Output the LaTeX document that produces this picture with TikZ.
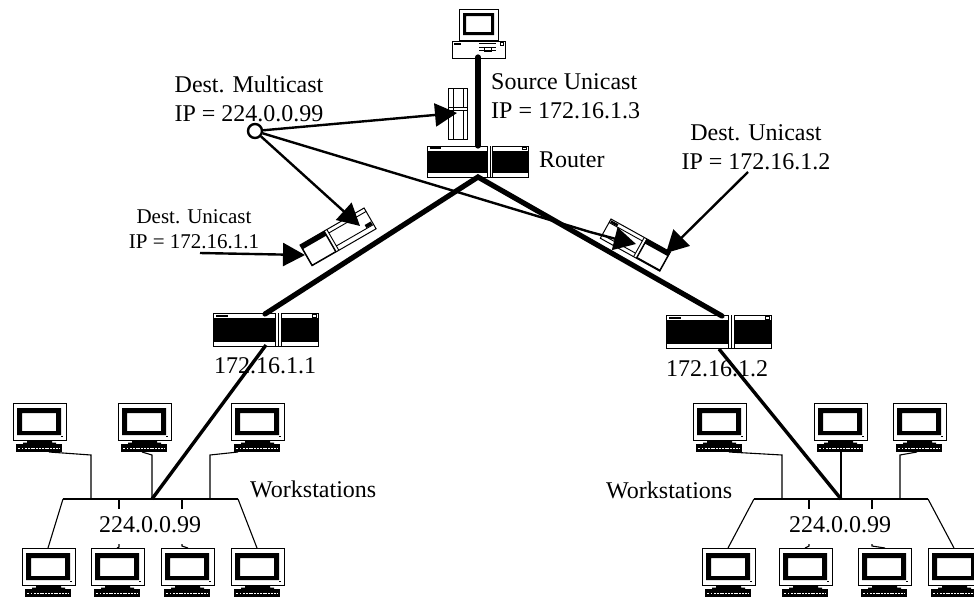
\documentclass[tikz,border=0pt]{standalone}
\usepackage{fontspec}
\setmainfont{Liberation Serif}
\usetikzlibrary{arrows.meta}
\tikzset{
  lbl/.style={inner sep=0pt,font=\fontsize{24}{29}\selectfont,align=center},
  lblsm/.style={inner sep=0pt,font=\fontsize{21}{25}\selectfont,align=center},
  wire/.style={line width=1.1pt},
  link/.style={line width=3.4pt},
  trunk/.style={line width=5.2pt,line cap=round,line join=miter},
  big/.style={line width=2.4pt,-{Triangle[length=22pt,width=23pt]}},
  bus/.style={line width=2pt},
  monitor/.pic={
    \draw[fill=white,line width=1pt] (0,0) rectangle (53,37);
    \fill[black,even odd rule] (4,5) rectangle (48,32) (9,10) rectangle (43,28);
    \draw[line width=0.8pt] (48,33.5)--(50,33.5);
    \fill[black] (14,37.5) rectangle (39,39.5) (10,39.5) rectangle (43,41);
    \fill[black] (3,41) rectangle (49,49);
    \draw[white,line width=1.6pt,dash pattern=on 2pt off 0.8pt] (12,45.5)--(46,45.5);
    \draw[white,line width=1.6pt] (5,45.5)--(7,45.5) (9,45.5)--(10,45.5);
    \coordinate (-a) at (7,49);
    \coordinate (-b) at (24,49);
    \coordinate (-c) at (27,49);
    \coordinate (-d) at (36,49);
  },
  routerbox/.pic={
    \draw[fill=white,line width=1pt] (0,0) rectangle (105,33);
    \fill[black] (0,5) rectangle (105,28.5);
    \fill[white] (62.5,0) rectangle (68.5,33);
    \draw[line width=1pt] (62.5,0)--(62.5,33) (65.5,0)--(65.5,33) (68.5,0)--(68.5,33);
    \fill[black] (3,1.5) rectangle (15,3.5);
    \draw[line width=0.7pt] (99,1.2) rectangle (103,4);
  },
  packetbox/.pic={
    \draw[fill=white,line width=1pt] (0,0) rectangle (74,24);
    \fill[black,even odd rule] (0,0) rectangle (28,24) (1,5) rectangle (27,23);
    \draw[line width=0.9pt] (28,0)--(28,24) (31,0)--(31,24) (31,4)--(74,4) (31,19)--(74,19);
    \fill[black] (66,15) rectangle (73,18.5);
  },
  packetboxr/.pic={
    \draw[fill=white,line width=1pt] (0,0) rectangle (68,22);
    \fill[black,even odd rule] (41,0) rectangle (68,22) (42,5) rectangle (67,20.5);
    \draw[line width=0.9pt] (41,0)--(41,22) (38,0)--(38,22) (0,4)--(38,4) (0,18)--(38,18);
    \fill[black] (1,1) rectangle (9,3.5);
  },
}
\begin{document}
\begin{tikzpicture}[x=1pt,y=-1pt]
\useasboundingbox (0,0) rectangle (974,598);

% routers
\pic (rt) at (427,146) [xscale=0.962,yscale=0.94] {routerbox};
\pic (rl) at (213,313) {routerbox};
\pic (rr) at (666,315) {routerbox};
\coordinate (rtA) at (478,146);
\coordinate (rtB) at (478,177);
\coordinate (rlT) at (265,314);
\coordinate (rlB) at (266,345);
\coordinate (rrT) at (722,316);
\coordinate (rrB) at (719,349);

% source pc
\draw[fill=white,line width=1pt] (459,9) rectangle (498,40);
\fill[black,even odd rule] (463,13) rectangle (494,35) (466,16) rectangle (491,32);
\draw[fill=white,line width=1pt] (452,41) rectangle (505,58);
\fill[black] (454,43) rectangle (461,45);
\draw[line width=0.8pt] (479,43)--(496,43) (479,47)--(496,47) (479,50)--(496,50) (484,47) rectangle (491,51);
\draw[line width=0.7pt] (500,42.5) rectangle (503,45);
\coordinate (src) at (478,57);

% packets
\draw[fill=white,line width=1pt] (448,88) rectangle (467,139);
\draw[line width=0.9pt] (453,88)--(453,139) (463,88)--(463,107) (463,110)--(463,139) (448,107)--(467,107) (448,110)--(467,110);
\pic[rotate=30] (pl) at (300,245) {packetbox};
\pic[rotate=-29] (pr) at (611,219) {packetboxr};

% trunks
\draw[trunk] (src) -- (rtA);
\draw[trunk] (rlT) -- (rtB) -- (rrT);
\draw[link] (rlB) -- (152,499);
\draw[link] (rrB) -- (841,499);

% left workstations
\pic (a1) at (13,403) {monitor};
\pic (a2) at (118,403) {monitor};
\pic (a3) at (231,403) {monitor};
\pic (a4) at (22,548) {monitor};
\pic (a5) at (91,548) {monitor};
\pic (a6) at (161,548) {monitor};
\pic (a7) at (231,548) {monitor};
\coordinate (lb0) at (63,499);
\coordinate (lb1) at (91,499);
\coordinate (lb2) at (152,499);
\coordinate (lb3) at (210,499);
\coordinate (lb4) at (238,499);
\draw[wire] (lb0) -- (lb4);
\draw[bus] (lb1) -- (lb3);
\draw[wire] (a1-d) -- (91,455) -- (lb1);
\draw[wire] (a2-b) -- (152,455) -- (lb2);
\draw[wire] (a3-a) -- (210,455) -- (lb3);
\draw[wire] (lb0) -- (48,548);
\draw[wire] (119,499) -- (119,509);
\draw[wire] (119,544) -- (119,547) -- (117,548);
\draw[wire] (182,499) -- (182,509);
\draw[wire] (182,544) -- (182,546) -- (188,548);
\draw[wire] (lb4) -- (257,548);

% right workstations
\pic (b1) at (693,403) {monitor};
\pic (b2) at (814,403) {monitor};
\pic (b3) at (893,403) {monitor};
\pic (b4) at (702,548) {monitor};
\pic (b5) at (779,548) {monitor};
\pic (b6) at (858,548) {monitor};
\pic (b7) at (928,548) {monitor};
\coordinate (rb0) at (754,499);
\coordinate (rb1) at (782,499);
\coordinate (rb2) at (841,499);
\coordinate (rb3) at (900,499);
\coordinate (rb4) at (928,499);
\draw[wire] (rb0) -- (rb4);
\draw[bus] (rb1) -- (rb3);
\draw[wire] (b1-d) -- (782,455) -- (rb1);
\draw[wire] (b2-c) -- (rb2);
\draw[wire] (b3-b) -- (900,455) -- (rb3);
\draw[wire] (rb0) -- (728,548);
\draw[wire] (809,499) -- (809,509);
\draw[wire] (809,544) -- (809,546) -- (805,548);
\draw[wire] (872,499) -- (872,509);
\draw[wire] (872,544) -- (872,546) -- (885,548);
\draw[wire] (rb4) -- (954,548);

% arrows
\node[circle,draw,line width=2.4pt,fill=white,minimum size=14pt,inner sep=0pt] (mc) at (255,131) {};
\coordinate (t1) at (457,113);
\coordinate (t2) at (360,226);
\coordinate (t3) at (636,244);
\coordinate (t4) at (305,255);
\coordinate (t5) at (666,253);
\coordinate (s4) at (200,253);
\coordinate (s5) at (748,172);
\draw[big] (mc) -- (t1);
\draw[big] (mc) -- (t2);
\draw[big] (mc) -- (590,232) .. controls (605,236) and (620,240) .. (t3);
\draw[big] (s4) -- (t4);
\draw[big] (s5) -- (t5);

% labels
\node[lbl] (l1) at (249,99) {Dest. Multicast\\IP = 224.0.0.99};
\node[lbl,align=left,anchor=west] (l2) at (491,96) {Source Unicast\\IP = 172.16.1.3};
\node[lbl] (l3) at (756,147) {Dest. Unicast\\IP = 172.16.1.2};
\node[lblsm] (l4) at (194,229) {Dest. Unicast\\IP = 172.16.1.1};
\node[lbl,anchor=west] (l5) at (539,160) {Router};
\node[lbl] (l6) at (265,366) {172.16.1.1};
\node[lbl] (l7) at (717,369) {172.16.1.2};
\node[lbl,anchor=west] (l8) at (250,489) {Workstations};
\node[lbl,anchor=west] (l9) at (606,490) {Workstations};
\node[lbl] (l10) at (150,525) {224.0.0.99};
\node[lbl] (l11) at (840,525) {224.0.0.99};
\end{tikzpicture}
\end{document}
